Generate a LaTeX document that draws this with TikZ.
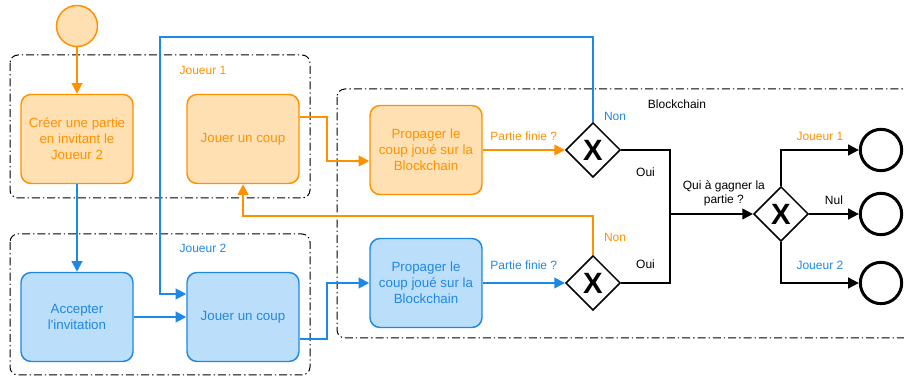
\documentclass[tikz,border=0pt]{standalone}
\usepackage{fontspec}
\setmainfont{Liberation Sans}
\usetikzlibrary{arrows.meta}
\usetikzlibrary{shapes.geometric}

\definecolor{orangeline}{HTML}{FF9100}
\definecolor{orangefill}{HTML}{FFE0B2}
\definecolor{blueline}{HTML}{1E88E5}
\definecolor{bluefill}{HTML}{BBDEFB}

\begin{document}
\begin{tikzpicture}[x=0.75pt,y=-0.75pt,>={Triangle[length=8pt,width=8pt]},
  font=\fontsize{9}{10.5}\selectfont,
  lane/.style={line width=0.75pt,dash pattern=on 6pt off 2.25pt on 1pt off 2.25pt,rounded corners=6pt},
  task/.style={draw,rounded corners=7.5pt,line width=1.1pt,minimum width=84pt,minimum height=66.75pt,align=center,font=\fontsize{10}{12}\selectfont},
  taskJ1/.style={task,draw=orangeline,fill=orangefill,text=orangeline},
  taskJ2/.style={task,draw=blueline,fill=bluefill,text=blueline},
  gateway/.style={draw,diamond,aspect=1,minimum size=41pt,inner sep=0pt,line width=1.1pt,fill=white,
    label={[font=\fontsize{22}{22}\bfseries\selectfont]center:X}},
  startevent/.style={draw=orangeline,fill=orangefill,circle,minimum size=30.75pt,inner sep=0pt,line width=1.1pt},
  endevent/.style={draw,circle,minimum size=31pt,inner sep=0pt,line width=2.25pt},
  flowJ1/.style={->,line width=1.5pt,color=orangeline},
  flowJ2/.style={->,line width=1.5pt,color=blueline},
  flowK/.style={line width=1.5pt}]
\useasboundingbox (0,0) rectangle (904,377);
% lanes
\draw[lane] (10,55) rectangle (310,198);
\draw[lane] (10,234) rectangle (310,375);
\begin{scope}
\clip (0,0) rectangle (904,377);
\draw[lane] (337,89) rectangle (930,338);
\end{scope}
\node[text=orangeline] (laneJ1) at (203,70) {Joueur 1};
\node[text=blueline] (laneJ2) at (203,248) {Joueur 2};
\node (laneBC) at (677,104) {Blockchain};
% start
\node[startevent] (start) at (77,26) {};
% joueur 1
\node[taskJ1] (creer) at (77,139) {Créer une partie\\en invitant le\\Joueur 2};
\node[taskJ1] (jouer1) at (243,139) {Jouer un coup};
% joueur 2
\node[taskJ2] (accepter) at (77,317) {Accepter\\l\textquotesingle invitation};
\node[taskJ2] (jouer2) at (243,317) {Jouer un coup};
% blockchain
\node[taskJ1] (propager1) at (426,150) {Propager le\\coup joué sur la\\Blockchain};
\node[taskJ2] (propager2) at (426,283) {Propager le\\coup joué sur la\\Blockchain};
\node[gateway] (g1) at (593,150) {};
\node[gateway] (g2) at (593,283) {};
\node[gateway] (g3) at (781,214) {};
\node[endevent] (end1) at (881,150) {};
\node[endevent] (end2) at (881,214) {};
\node[endevent] (end3) at (881,283) {};
\coordinate (backB) at (160,37);
\coordinate (backO) at (243,216);
\coordinate (merge) at (670,214);

% flows joueur 1
\draw[flowJ1] (start) -- (creer);
\draw[flowJ1] ([yshift=16.5pt]jouer1.east) -- ++(27,0) |- ([yshift=-8.25pt]propager1.west);
\draw[flowJ1] (propager1) -- node[above=3pt]{Partie finie ?} (g1);
\draw[flowJ1] (g2.north) |- node[pos=0,anchor=west,xshift=4.2pt,yshift=12.75pt]{Non} (backO) -- (jouer1.south);
% flows joueur 2
\draw[flowJ2] (creer) -- (accepter);
\draw[flowJ2] (accepter) -- (jouer2);
\draw[flowJ2] ([yshift=-16.5pt]jouer2.east) -- ++(27,0) |- (propager2.west);
\draw[flowJ2] (propager2) -- node[above=6pt]{Partie finie ?} (g2);
\draw[flowJ2] (g1.north) |- node[pos=0,anchor=west,xshift=4.2pt,yshift=3.75pt]{Non} (backB) |- ([yshift=17.25pt]jouer2.west);
% result
\draw[flowK,->] (g1.east) -| node[pos=0.25,below=9pt]{Oui} (merge) -- node[pos=0.65,above=2pt,align=center]{Qui à gagner la\\partie ?} (g3);
\draw[flowK] (g2.east) -| node[pos=0.25,above=6.75pt]{Oui} (merge);
\draw[flowK,->] (g3.north) |- node[pos=0.75,above=3pt,text=orangeline]{Joueur 1} (end1);
\draw[flowK,->] (g3) -- node[above=3pt]{Nul} (end2);
\draw[flowK,->] (g3.south) |- node[pos=0.75,above=6pt,text=blueline]{Joueur 2} (end3);
\end{tikzpicture}
\end{document}
